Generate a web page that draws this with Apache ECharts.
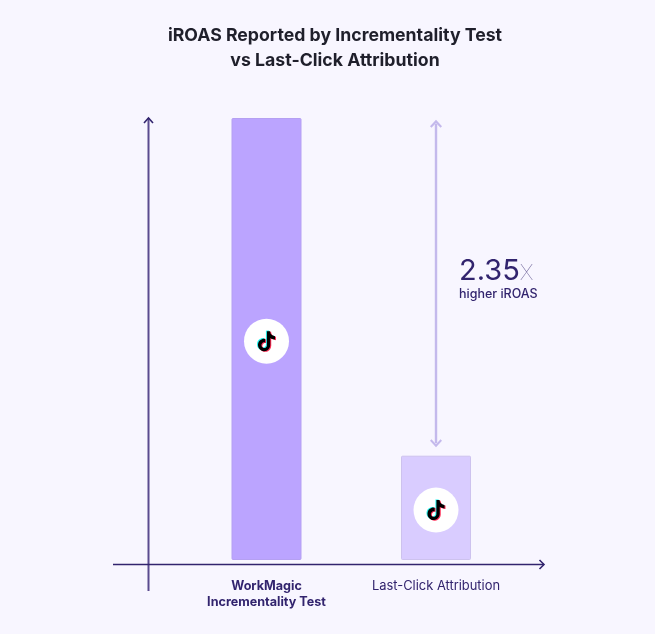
<!DOCTYPE html>
<html>
<head>
<meta charset="utf-8">
<title>iROAS chart</title>
<script src="https://cdn.jsdelivr.net/npm/echarts@6/dist/echarts.min.js"></script>
<style>
	html, body { margin: 0; padding: 0; background: #f8f6ff; }
	#chart { width: 655px; height: 634px; }
</style>
</head>
<body>
<div id="chart"></div>
<script>
// values are bar heights, top bar = 100
var categories = ['WorkMagic\nIncrementality Test', 'Last-Click Attribution'];
var barValues = [100, 23.6];
var iconLevels = [49.5, 11.3];
var gapArrow = [98.7, 26.4];
var multiplier = '2.35';
var multiplierNote = 'higher iROAS';

var AXIS_COLOR = '#32246e';
var FONT = 'Inter, "Noto Sans", sans-serif';
var CHEVRON = 'path://M0 6.2L6 0L12 6.2L10.5 7.6L6 3L1.5 7.6Z';
var TIKTOK = 'path://M12.525.02c1.31-.02 2.61-.01 3.91-.02.08 1.53.63 3.09 1.75 4.17 1.12 1.11 2.7 1.62 4.24 1.79v4.03c-1.44-.05-2.89-.35-4.2-.97-.57-.26-1.1-.59-1.62-.93-.01 2.92.01 5.84-.02 8.75-.08 1.4-.54 2.79-1.35 3.94-1.31 1.92-3.58 3.17-5.91 3.21-1.43.08-2.86-.31-4.08-1.03-2.02-1.19-3.44-3.37-3.65-5.71-.02-.5-.03-1-.01-1.49.18-1.9 1.12-3.72 2.58-4.96 1.66-1.44 3.98-2.13 6.15-1.72.02 1.48-.04 2.96-.04 4.44-.99-.32-2.15-.23-3.02.37-.63.41-1.11 1.04-1.36 1.75-.21.51-.15 1.07-.14 1.61.24 1.64 1.82 3.02 3.5 2.87 1.12-.01 2.19-.66 2.77-1.61.19-.33.4-.67.41-1.06.1-1.79.06-3.57.07-5.36.01-4.03-.01-8.05.02-12.07z';

function iconPoints() {
	return categories.map(function(name, i) {
		return [name, iconLevels[i]];
	});
}

// one layer of the logo, offset gives the cyan and red fringe
function iconLayer(color, offset) {
	return {
		type: 'scatter',
		data: iconPoints(),
		symbol: TIKTOK,
		symbolSize: [17, 20],
		symbolOffset: offset,
		itemStyle: { color: color, opacity: 1 },
		silent: true,
		z: 4
	};
}

function axisLine(points, width, color) {
	return {
		type: 'polyline',
		shape: { points: points },
		style: { stroke: color || AXIS_COLOR, lineWidth: width, fill: null },
		silent: true
	};
}

var chart = echarts.init(document.getElementById('chart'));
chart.setOption({
	animation: false,
	backgroundColor: '#f8f6ff',
	title: {
		text: 'iROAS Reported by Incrementality Test\nvs Last-Click Attribution',
		left: 330,
		top: 18,
		textAlign: 'center',
		textStyle: {
			fontFamily: FONT,
			fontSize: 17.7,
			fontWeight: 700,
			lineHeight: 25,
			color: '#1f1f2b'
		}
	},
	grid: { left: 181.75, top: 118, width: 339, height: 442 },
	xAxis: {
		type: 'category',
		data: [
			{ value: categories[0], textStyle: { fontWeight: 700, fontSize: 12.6 } },
			{ value: categories[1], textStyle: { fontSize: 12.9 } }
		],
		axisLine: { show: false },
		axisTick: { show: false },
		axisLabel: {
			margin: 18,
			interval: 0,
			fontFamily: FONT,
			lineHeight: 16,
			color: '#32246e'
		}
	},
	yAxis: {
		type: 'value',
		min: 0,
		max: 100,
		show: false
	},
	series: [
		{
			type: 'bar',
			barWidth: 70,
			data: [
				{ value: barValues[0], itemStyle: { color: '#bba4ff', borderColor: '#b5a0f2' } },
				{ value: barValues[1], itemStyle: { color: '#d9ccff', borderColor: '#cdc2ee' } }
			],
			itemStyle: { borderWidth: 1, borderRadius: 1 },
			silent: true,
			z: 2,
			markLine: {
				silent: true,
				symbol: [CHEVRON, CHEVRON],
				symbolSize: [12, 8],
				label: { show: false },
				lineStyle: { color: '#c4b9ec', width: 2.4, type: 'solid' },
				data: [[
					{ xAxis: categories[1], yAxis: gapArrow[0] },
					{ xAxis: categories[1], yAxis: gapArrow[1] }
				]]
			}
		},
		{
			type: 'scatter',
			data: iconPoints(),
			symbol: 'circle',
			symbolSize: 45,
			itemStyle: { color: '#ffffff', opacity: 1 },
			silent: true,
			z: 3
		},
		iconLayer('#25f4ee', [-1, -0.6]),
		iconLayer('#fe2c55', [1, 0.6]),
		iconLayer('#000000', [0, 0])
	],
	graphic: [
		axisLine([[148.5, 118], [148.5, 591]], 2, '#5a4b8f'),
		axisLine([[144, 123], [148.5, 118], [153, 123]], 1.6),
		axisLine([[113, 564.5], [544, 564.5]], 1.6),
		axisLine([[539.5, 560], [544, 564.5], [539.5, 569]], 1.6),
		{
			type: 'text',
			left: 459,
			top: 257,
			silent: true,
			style: {
				text: '{num|' + multiplier + '}{x|X}',
				rich: {
					num: { fontFamily: FONT, fontSize: 29, fontWeight: 400, fill: '#32246e', color: '#32246e' },
					x: { fontFamily: FONT, fontSize: 22, fontWeight: 100, fill: '#6a5f96', color: '#6a5f96', padding: [3, 0, 0, 0] }
				}
			}
		},
		{
			type: 'text',
			left: 459,
			top: 288,
			silent: true,
			style: {
				text: multiplierNote,
				font: '500 12.5px ' + FONT,
				fill: '#32246e'
			}
		}
	]
});
</script>
</body>
</html>
